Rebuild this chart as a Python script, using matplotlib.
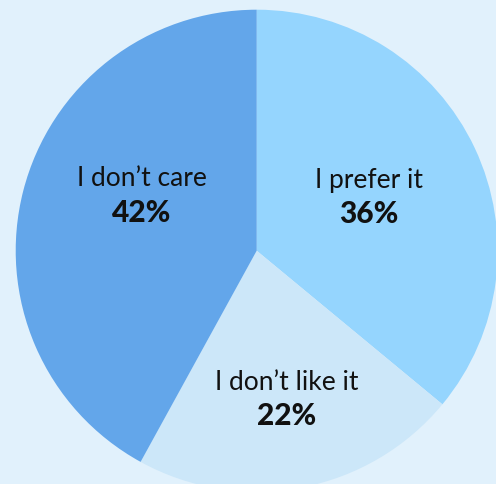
import matplotlib
matplotlib.use("Agg")
import matplotlib.pyplot as plt
import math

labels = ["I prefer it", "I don\u2019t like it", "I don\u2019t care"]
values = [36, 22, 42]
colors = ["#95d5fe", "#cce7f9", "#63a6ea"]

# label placement: (fraction of radius, angle in degrees)
label_pos = [(0.515, 25.6), (0.63, -78.5), (0.53, 154.4)]

W, H = 496, 484
cx, cy, R = 256.7, H - 250.7, 241

plt.rcParams['font.family'] = ['Lato', 'DejaVu Sans']

fig = plt.figure(figsize=(W / 100, H / 100), dpi=100)
fig.patch.set_facecolor("#e1f1fc")
ax = fig.add_axes([0, 0, 1, 1])
ax.set_facecolor("#e1f1fc")
ax.pie(values, colors=colors, startangle=90, counterclock=False,
       radius=R, center=(cx, cy), wedgeprops={"linewidth": 0})
ax.set_xlim(0, W)
ax.set_ylim(0, H)
ax.set_aspect("equal")
ax.axis("off")

for lab, v, (rf, ang) in zip(labels, values, label_pos):
    x = cx + rf * R * math.cos(math.radians(ang))
    y = cy + rf * R * math.sin(math.radians(ang))
    ax.text(x, y + 17, lab, ha="center", va="center", fontsize=19, color="#111111")
    ax.text(x, y - 17, f"{v}%", ha="center", va="center", fontsize=21.5,
            fontweight="black", color="#111111")

fig.savefig("out.png", dpi=100, facecolor=fig.get_facecolor())
